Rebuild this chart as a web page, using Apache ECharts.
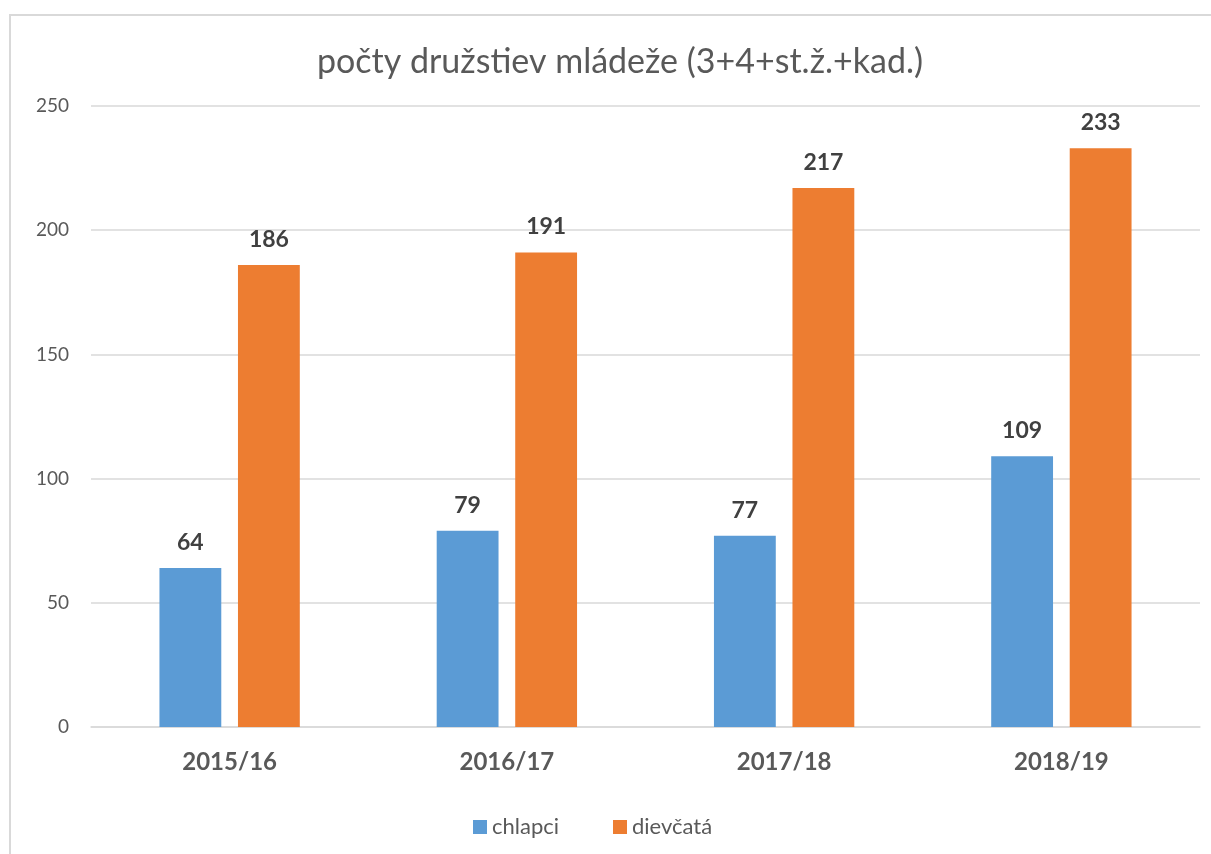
<!DOCTYPE html>
<html>
<head>
<meta charset="utf-8">
<script src="https://cdn.jsdelivr.net/npm/echarts@6/dist/echarts.min.js"></script>
<style>
  html, body { margin: 0; padding: 0; background: #fff; overflow: hidden; }
  #frame {
    position: absolute; left: 9px; top: 14px;
    width: 1400px; height: 1000px;
    border: 2px solid #d9d9d9; box-sizing: border-box;
  }
  #main { position: absolute; left: 0; top: 0; width: 1211px; height: 854px; }
</style>
</head>
<body>
<div id="frame"></div>
<div id="main"></div>
<script>
// data
var categories = ["2015/16", "2016/17", "2017/18", "2018/19"];
var chlapci = [64, 79, 77, 109];
var dievcata = [186, 191, 217, 233];
var yTicks = { min: 0, max: 250, interval: 50 };

var FONT = "Lato";
var chart = echarts.init(document.getElementById("main"));

var labelStyle = {
  show: true,
  position: "top",
  distance: 14,
  color: "#404040",
  fontFamily: FONT,
  fontWeight: "bold",
  fontSize: 23
};

chart.setOption({
  animation: false,
  title: {
    text: "počty družstiev mládeže (3+4+st.ž.+kad.)",
    left: 615,
    textAlign: "center",
    top: 40,
    textStyle: { color: "#595959", fontFamily: FONT, fontWeight: "normal", fontSize: 34 }
  },
  legend: {
    bottom: 11,
    left: 468,
    itemWidth: 14,
    itemHeight: 14,
    itemGap: 54,
    icon: "rect",
    textStyle: { color: "#595959", fontFamily: FONT, fontSize: 22 },
    data: ["chlapci", "dievčatá"]
  },
  grid: { left: 91, right: 11, top: 106, bottom: 127 },
  xAxis: {
    type: "category",
    data: categories,
    axisLine: { lineStyle: { color: "#d9d9d9", width: 1.5 } },
    axisTick: { show: false },
    axisLabel: { color: "#595959", fontFamily: FONT, fontWeight: "bold", fontSize: 24, margin: 23 }
  },
  yAxis: {
    type: "value",
    min: yTicks.min,
    max: yTicks.max,
    interval: yTicks.interval,
    axisLine: { show: false },
    axisTick: { show: false },
    splitLine: { lineStyle: { color: "#d9d9d9", width: 1.5 } },
    axisLabel: { color: "#595959", fontFamily: FONT, fontSize: 19, margin: 22 }
  },
  series: [
    {
      name: "chlapci",
      type: "bar",
      data: chlapci,
      barWidth: "22.3%",
      barGap: "27%",
      itemStyle: { color: "#5b9bd5" },
      label: labelStyle
    },
    {
      name: "dievčatá",
      type: "bar",
      data: dievcata,
      barWidth: "22.3%",
      itemStyle: { color: "#ed7d31" },
      label: labelStyle
    }
  ]
});
</script>
</body>
</html>
